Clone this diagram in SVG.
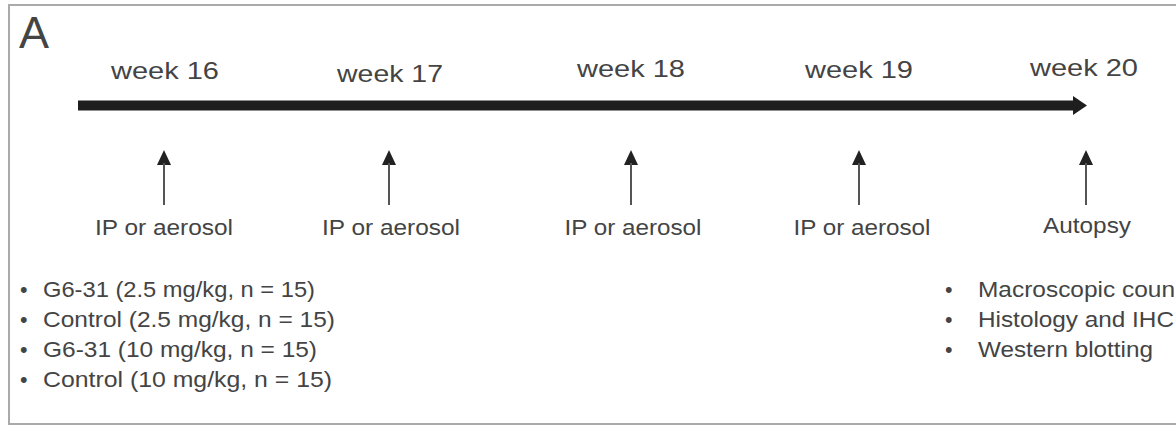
<svg xmlns="http://www.w3.org/2000/svg" width="1176" height="427" viewBox="0 0 1176 427">
  <style>
    .t { font-family: "Liberation Sans", Arial, sans-serif; fill: #444; }
    .wk { font-size: 24.5px; text-anchor: middle; }
    .lb { font-size: 21.5px; text-anchor: middle; }
    .li { font-size: 21.5px; }
    .shaft { stroke: #555; stroke-width: 2; fill: none; }
  </style>
  <rect x="0" y="0" width="1176" height="427" fill="#fff"/>
  <rect id="frame" x="9" y="5" width="1180" height="419" fill="none" stroke="#aaa" stroke-width="2"/>
  <text class="t" x="19" y="48" font-size="45" fill="#333">A</text>

  <g id="timeline">
    <rect x="78" y="100.5" width="997" height="10" fill="#1e1e1e"/>
    <path d="M1073,96 L1087,105.5 L1073,115 Z" fill="#1e1e1e"/>
  </g>

  <g id="week16"><text class="t wk" x="165" y="79" textLength="108" lengthAdjust="spacingAndGlyphs">week 16</text></g>
  <g id="week17"><text class="t wk" x="390" y="82" textLength="106" lengthAdjust="spacingAndGlyphs">week 17</text></g>
  <g id="week18"><text class="t wk" x="631" y="77" textLength="108" lengthAdjust="spacingAndGlyphs">week 18</text></g>
  <g id="week19"><text class="t wk" x="859" y="78" textLength="108" lengthAdjust="spacingAndGlyphs">week 19</text></g>
  <g id="week20"><text class="t wk" x="1084" y="76" textLength="108" lengthAdjust="spacingAndGlyphs">week 20</text></g>

  <g id="connectors">
    <g fill="#222">
      <path d="M164,150 L171,165 L157,165 Z"/>
      <path d="M389,150 L396,165 L382,165 Z"/>
      <path d="M631,150 L638,165 L624,165 Z"/>
      <path d="M859,150 L866,165 L852,165 Z"/>
      <path d="M1086,150 L1093,165 L1079,165 Z"/>
    </g>
    <path class="shaft" d="M164,163 V205 M389,163 V205 M631,163 V205 M859,163 V205 M1086,163 V205"/>
  </g>

  <g id="ip1"><text class="t lb" x="164" y="235" textLength="138" lengthAdjust="spacingAndGlyphs">IP or aerosol</text></g>
  <g id="ip2"><text class="t lb" x="391" y="235" textLength="138" lengthAdjust="spacingAndGlyphs">IP or aerosol</text></g>
  <g id="ip3"><text class="t lb" x="633" y="235" textLength="137" lengthAdjust="spacingAndGlyphs">IP or aerosol</text></g>
  <g id="ip4"><text class="t lb" x="862" y="235" textLength="137" lengthAdjust="spacingAndGlyphs">IP or aerosol</text></g>
  <g id="autopsy"><text class="t lb" x="1087" y="233" textLength="88" lengthAdjust="spacingAndGlyphs">Autopsy</text></g>

  <g id="groups">
    <text class="t li" x="20" y="297">•</text>
    <text class="t li" x="43" y="297" textLength="272" lengthAdjust="spacingAndGlyphs">G6-31 (2.5 mg/kg, n = 15)</text>
    <text class="t li" x="20" y="327">•</text>
    <text class="t li" x="43" y="327" textLength="292" lengthAdjust="spacingAndGlyphs">Control (2.5 mg/kg, n = 15)</text>
    <text class="t li" x="20" y="357">•</text>
    <text class="t li" x="43" y="357" textLength="274" lengthAdjust="spacingAndGlyphs">G6-31 (10 mg/kg, n = 15)</text>
    <text class="t li" x="20" y="387">•</text>
    <text class="t li" x="43" y="387" textLength="289" lengthAdjust="spacingAndGlyphs">Control (10 mg/kg, n = 15)</text>
  </g>

  <g id="analyses">
    <text class="t li" x="945" y="297">•</text>
    <text class="t li" x="978" y="297" textLength="197" lengthAdjust="spacingAndGlyphs">Macroscopic coun</text>
    <text class="t li" x="945" y="327">•</text>
    <text class="t li" x="978" y="327" textLength="196" lengthAdjust="spacingAndGlyphs">Histology and IHC</text>
    <text class="t li" x="945" y="357">•</text>
    <text class="t li" x="978" y="357" textLength="175" lengthAdjust="spacingAndGlyphs">Western blotting</text>
  </g>
</svg>
